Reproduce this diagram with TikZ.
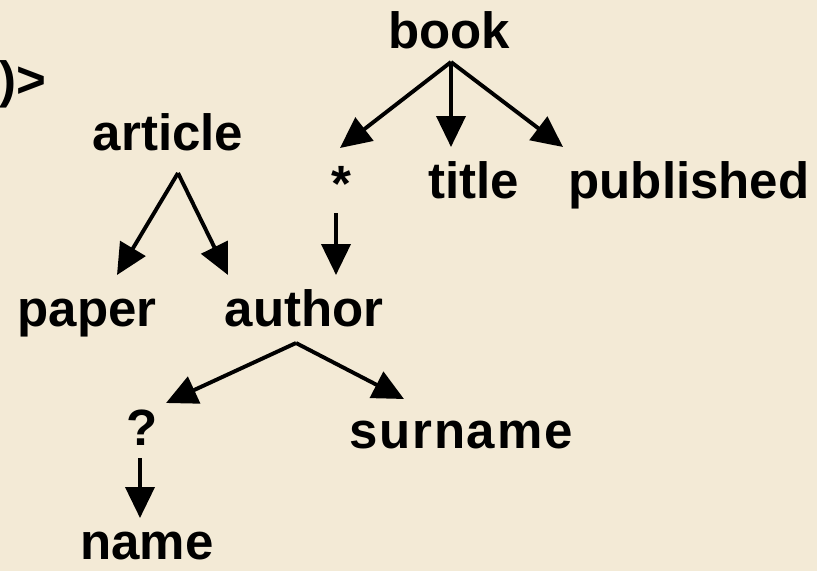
\documentclass[tikz,border=0pt]{standalone}
\usepackage{fontspec}
\setmainfont{Liberation Sans}
\usetikzlibrary{arrows.meta}
\definecolor{bgpaper}{RGB}{243,234,214}
\tikzset{
  lbl/.style={anchor=base, inner sep=0pt, font=\fontsize{51}{51}\selectfont\bfseries},
  arr/.style={line width=3.9pt, -{Triangle[length=31pt,width=29pt]}}
}
\begin{document}
\begin{tikzpicture}[x=1pt,y=-1pt]
\fill[bgpaper] (0,0) rectangle (817,571);
\useasboundingbox (0,0) rectangle (817,571);
% labels
\node[lbl, anchor=base east] (frag) at (46,97) {)>};
\node[lbl] (book) at (449,48) {book};
\node[lbl] (article) at (168,150) {article};
\node[lbl] (star) at (341,201) {*};
\node[lbl] (title) at (474,198) {title};
\node[lbl] (published) at (689,198) {published};
\node[lbl] (paper) at (87,326) {paper};
\node[lbl] (author) at (304,326) {author};
\node[lbl] (q) at (142,445) {?};
\node[lbl] (surname) at (461,448) {\addfontfeatures{LetterSpace=3.5}surname};
\node[lbl] (name) at (147,559) {name};
% arrow end points
\coordinate (bookS) at (451,62);
\coordinate (starN) at (340,148);
\coordinate (titleN) at (451,147);
\coordinate (pubN) at (563,147);
\coordinate (articleS) at (178,173);
\coordinate (paperN) at (117,275);
\coordinate (authorNL) at (228,275);
\coordinate (starS) at (336,213);
\coordinate (authorNR) at (336,275);
\coordinate (authorS) at (296,343);
\coordinate (qN) at (166,403);
\coordinate (surnameN) at (404,399);
\coordinate (qS) at (140,458);
\coordinate (nameN) at (140,518);
% connectors
\draw[arr] (bookS) -- (starN);
\draw[arr] (bookS) -- (titleN);
\draw[arr] (bookS) -- (pubN);
\draw[arr] (articleS) -- (paperN);
\draw[arr] (articleS) -- (authorNL);
\draw[arr] (starS) -- (authorNR);
\draw[arr] (authorS) -- (qN);
\draw[arr] (authorS) -- (surnameN);
\draw[arr] (qS) -- (nameN);
\end{tikzpicture}
\end{document}
